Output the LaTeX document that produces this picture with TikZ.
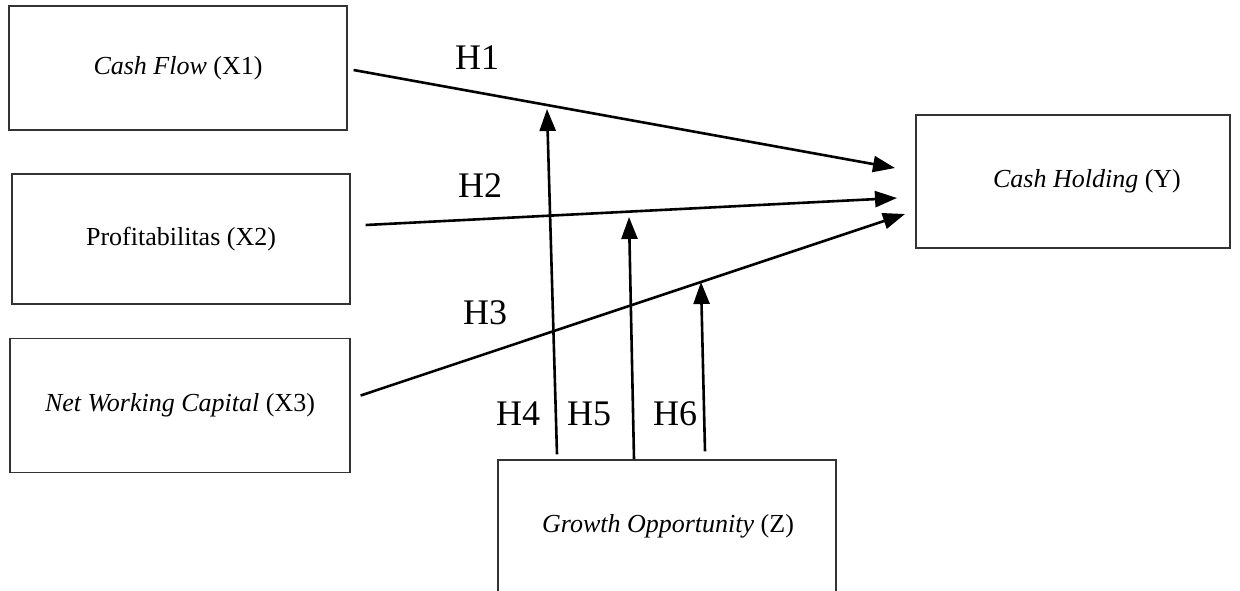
\documentclass[tikz,border=0pt]{standalone}
\usepackage{fontspec}
\setmainfont{Liberation Serif}
\usetikzlibrary{arrows.meta, positioning}
\tikzstyle{var} = [rectangle, draw=black!80, line width=0.6pt, text centered, font=\fontsize{13}{15}\selectfont, inner sep=0pt]
\tikzstyle{arrow} = [line width=1.3pt, -{Triangle[length=11pt,width=8pt]}]
\tikzstyle{hyp} = [font=\fontsize{18}{20}\selectfont, inner sep=0pt]

\begin{document}
\begin{tikzpicture}[x=0.5pt, y=-0.5pt]

            \clip (0,0) rectangle (1240,590);

            \node (x1) [var, minimum width=169pt, minimum height=62pt] at (178,68) {\textit{Cash Flow} (X1)};
            \node (x2) [var, minimum width=169pt, minimum height=65pt] at (181,239) {Profitabilitas (X2)};
            \node (x3) [var, minimum width=170pt, minimum height=67pt] at (180,405.5) {\textit{Net Working Capital} (X3)};
            \node (y) [var, minimum width=157pt, minimum height=66.5pt] at (1073,181.5) {\hspace*{14pt}\textit{Cash Holding} (Y)};
            \node (z) [var, minimum width=169pt, minimum height=80pt] at (667,540) {};
            \node (zlabel) at (668,526) [font=\fontsize{13}{15}\selectfont] {\textit{Growth Opportunity} (Z)};

            \coordinate (t1) at (895,168);
            \coordinate (t2) at (897,198);
            \coordinate (t3) at (905,214);
            \coordinate (t4) at (547,109);
            \coordinate (t5) at (629,217);
            \coordinate (t6) at (701,282);

            \draw [arrow] ([xshift=3pt, yshift=-1pt]x1.east) -- (t1);
            \draw [arrow] ([xshift=7.5pt, yshift=7pt]x2.east) -- (t2);
            \draw [arrow] ([xshift=5pt, yshift=5pt]x3.east) -- (t3);
            \draw [arrow] ([xshift=-55pt, yshift=2.5pt]z.north) -- (t4);
            \draw [arrow] ([xshift=-16.5pt]z.north) -- (t5);
            \draw [arrow] ([xshift=19pt, yshift=4pt]z.north) -- (t6);

            \node (h1) [hyp] at (477,58) {H1};
            \node (h2) [hyp] at (480,186) {H2};
            \node (h3) [hyp] at (485,313) {H3};
            \node (h4) [hyp] at (518,414) {H4};
            \node (h5) [hyp] at (589,414) {H5};
            \node (h6) [hyp] at (675,414) {H6};

        \end{tikzpicture}
\end{document}
